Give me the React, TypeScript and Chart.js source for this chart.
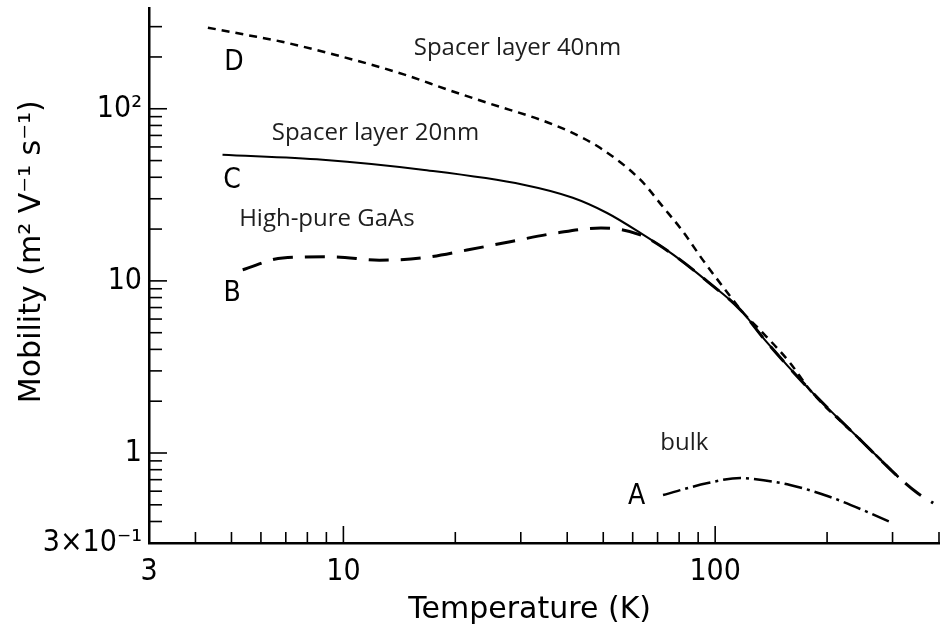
import React, { useEffect, useRef } from "react";
import { Chart, registerables } from "chart.js";

Chart.register(...registerables);

// Curve A: bulk GaAs (dash-dot)
const curveA_T = [72.4, 95.6, 117, 127, 159, 204, 257, 300];
const curveA_mu = [0.57, 0.669, 0.716, 0.706, 0.652, 0.555, 0.454, 0.392];

// Curve B: high-pure GaAs (long dash)
const curveB_T = [5.36, 6.87, 9.36, 12.5, 16.3, 21.5, 28.1, 37.5, 49.3, 62.9, 77.1, 95.6, 117, 136, 180, 246, 311, 350, 386];
const curveB_mu = [11.6, 13.6, 13.8, 13.2, 13.6, 15.1, 16.9, 19.0, 20.3, 18.5, 14.2, 9.87, 6.78, 4.54, 2.32, 1.19, 0.725, 0.585, 0.512];

// Curve C: spacer layer 20 nm (solid)
const curveC_T = [4.73, 8.8, 16.3, 30.5, 41.4, 51.2, 62.9, 77.1, 95.6, 117, 136, 180, 246, 311];
const curveC_mu = [54, 50.5, 44.2, 36.2, 30.4, 24.8, 19.0, 14.2, 9.87, 6.78, 4.54, 2.32, 1.19, 0.725];

// Curve D: spacer layer 40 nm (short dash)
const curveD_T = [4.32, 5.47, 6.84, 9.48, 14.6, 19.1, 24.8, 33.9, 40.7, 49.0, 62.9, 72.4, 82.0, 92.7, 105, 119, 132, 159, 180, 246, 311];
const curveD_mu = [296, 269, 245, 206, 158, 129, 107, 86.3, 73.5, 59.3, 38.7, 26.9, 19.3, 13.2, 9.23, 6.52, 5.19, 3.34, 2.32, 1.19, 0.725];

// Axis ticks
const xTickValues = [3, 4, 5, 6, 7, 8, 9, 10, 20, 30, 40, 50, 60, 70, 80, 90, 100, 200, 300, 400];
const xMajor = [10, 100];
const xLabels: Record<string, string> = { "3": "3", "10": "10", "100": "100" };
const yTickValues = [0.3, 0.4, 0.5, 0.6, 0.7, 0.8, 0.9, 1, 2, 3, 4, 5, 6, 7, 8, 9, 10, 20, 30, 40, 50, 60, 70, 80, 90, 100, 200, 300];
const yMajor = [1, 10, 100];
const yLabels: Record<string, string> = { "0.3": "3×10⁻¹", "1": "1", "10": "10", "100": "10²" };

// Text annotations (data coordinates)
const curveLetters = ["D", "C", "B", "A"];
const curveLetterT = [5.08, 5.02, 5.02, 61.5];
const curveLetterMu = [185, 38.2, 8.4, 0.555];
const noteTexts = ["Spacer layer 40nm", "Spacer layer 20nm", "High-pure GaAs", "bulk"];
const noteT = [29.4, 12.2, 9.03, 82.6];
const noteMu = [226, 72.5, 22.9, 1.14];

const DIN = "'DejaVu Sans Condensed', 'DejaVu Sans', sans-serif";
const DINW = "'DejaVu Sans', sans-serif";
const INK = "#000";

const toPts = (xs: number[], ys: number[]) => xs.map((x, i) => ({ x, y: ys[i] }));
const near = (a: number, list: number[]) => list.some((b) => Math.abs(a - b) < 1e-9);
const key = (v: number) => String(Math.round(v * 1000) / 1000);

const innerTicks = {
  id: "innerTicks",
  afterDraw(chart: any) {
    const { ctx, chartArea, scales } = chart;
    const xs = scales.x;
    const ys = scales.y;
    ctx.save();
    ctx.strokeStyle = INK;
    ctx.lineWidth = 1.6;
    xs.ticks.forEach((t: any) => {
      const px = xs.getPixelForValue(t.value);
      const len = near(t.value, xMajor) ? 17 : 11;
      ctx.beginPath();
      ctx.moveTo(px, chartArea.bottom);
      ctx.lineTo(px, chartArea.bottom - len);
      ctx.stroke();
    });
    ys.ticks.forEach((t: any) => {
      const py = ys.getPixelForValue(t.value);
      const len = near(t.value, yMajor) ? 18 : 13;
      ctx.beginPath();
      ctx.moveTo(chartArea.left, py);
      ctx.lineTo(chartArea.left + len, py);
      ctx.stroke();
    });
    ctx.restore();
  },
};

const annotations = {
  id: "annotations",
  afterDatasetsDraw(chart: any) {
    const { ctx, scales } = chart;
    const xs = scales.x;
    const ys = scales.y;
    ctx.save();
    ctx.textAlign = "center";
    ctx.textBaseline = "middle";
    ctx.fillStyle = INK;
    ctx.font = `28px ${DIN}`;
    curveLetters.forEach((s, i) => {
      ctx.fillText(s, xs.getPixelForValue(curveLetterT[i]), ys.getPixelForValue(curveLetterMu[i]));
    });
    ctx.fillStyle = "#1e1e1e";
    ctx.font = "24px 'Open Sans', 'Noto Sans', sans-serif";
    noteTexts.forEach((s, i) => {
      ctx.fillText(s, xs.getPixelForValue(noteT[i]), ys.getPixelForValue(noteMu[i]));
    });
    ctx.restore();
  },
};

export default function App() {
  const ref = useRef<HTMLCanvasElement | null>(null);

  useEffect(() => {
    if (!ref.current) return;
    const common = { pointRadius: 0, pointHoverRadius: 0, fill: false, borderColor: INK, cubicInterpolationMode: "monotone" as const, showLine: true };
    const chart = new Chart(ref.current, {
      type: "scatter",
      data: {
        datasets: [
          { ...common, label: "A", data: toPts(curveA_T, curveA_mu), borderWidth: 2.5, borderDash: [18, 5, 3, 5] },
          { ...common, label: "B", data: toPts(curveB_T, curveB_mu), borderWidth: 3, borderDash: [20, 12] },
          { ...common, label: "D", data: toPts(curveD_T, curveD_mu), borderWidth: 2.5, borderDash: [8, 6] },
          { ...common, label: "C", data: toPts(curveC_T, curveC_mu), borderWidth: 2 },
        ],
      },
      options: {
        animation: false,
        responsive: true,
        maintainAspectRatio: false,
        layout: { padding: { top: 8, right: 9, left: 0, bottom: 0 } },
        plugins: { legend: { display: false }, tooltip: { enabled: false } },
        events: [],
        scales: {
          x: {
            type: "logarithmic",
            min: 3,
            max: 400,
            grid: { display: false, drawTicks: false },
            border: { display: true, color: INK, width: 2.5 },
            afterBuildTicks: (s: any) => {
              s.ticks = xTickValues.map((v) => ({ value: v }));
            },
            afterFit: (s: any) => {
              s.height = 96;
              s.paddingLeft = 0;
              s.paddingRight = 0;
            },
            ticks: {
              autoSkip: false,
              maxRotation: 0,
              padding: 11,
              color: INK,
              font: { family: DIN, size: 30 },
              callback: (v: any) => xLabels[key(Number(v))] ?? "",
            },
            title: {
              display: true,
              text: "Temperature (K)   ",
              color: INK,
              font: { family: DINW, size: 30 },
              padding: { top: 0, bottom: 11 },
            },
          },
          y: {
            type: "logarithmic",
            min: 0.3,
            max: 385,
            grid: { display: false, drawTicks: false },
            border: { display: true, color: INK, width: 2.5 },
            afterBuildTicks: (s: any) => {
              s.ticks = yTickValues.map((v) => ({ value: v }));
            },
            afterFit: (s: any) => {
              s.width = 149;
              s.paddingTop = 0;
              s.paddingBottom = 0;
            },
            ticks: {
              autoSkip: false,
              padding: 7,
              color: INK,
              font: { family: DIN, size: 30 },
              callback: (v: any) => yLabels[key(Number(v))] ?? "",
            },
            title: {
              display: true,
              text: "     Mobility (m² V⁻¹ s⁻¹)",
              color: INK,
              font: { family: DINW, size: 30 },
              padding: { top: 14, bottom: 0 },
            },
          },
        },
      },
      plugins: [innerTicks, annotations],
    });
    return () => chart.destroy();
  }, []);

  return (
    <div style={{ position: "fixed", left: 0, top: 0, width: 948, height: 639, background: "#fff" }}>
      <canvas ref={ref} />
    </div>
  );
}
